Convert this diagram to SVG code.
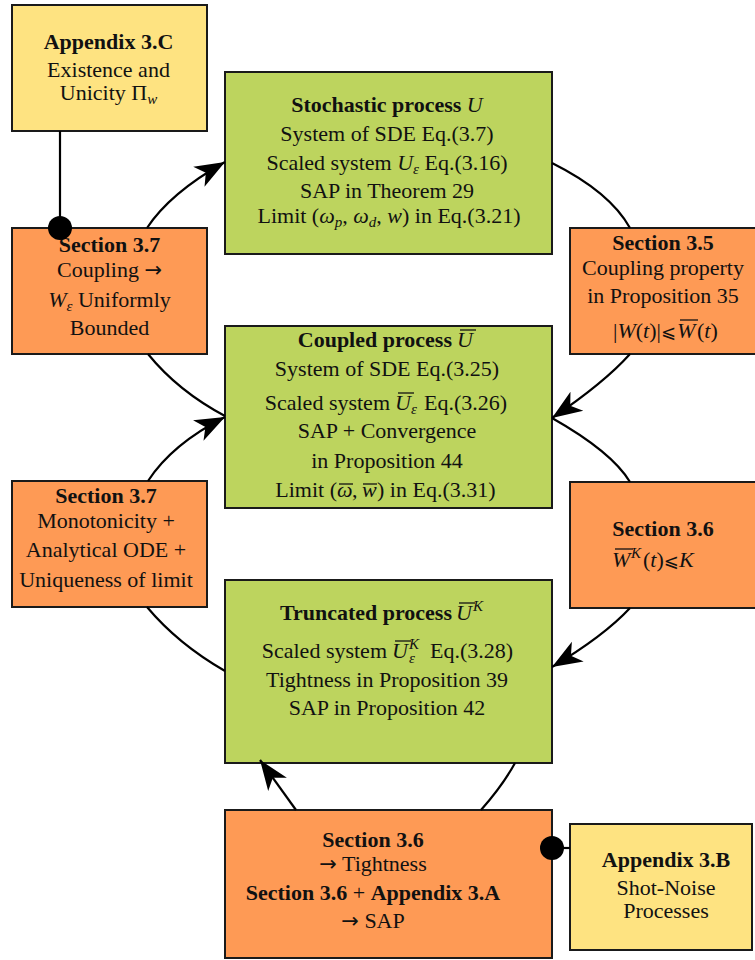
<svg xmlns="http://www.w3.org/2000/svg" width="755" height="960" viewBox="0 0 755 960">
<style>
.box{stroke:#1a1a1a;stroke-width:2}
.y{fill:#FEE381}.o{fill:#FE9A55}.g{fill:#BDD45E}
text{font-family:"Liberation Serif","Times New Roman",serif;font-size:22px;text-anchor:middle;fill:#111}
text.l{text-anchor:start}
text.r{text-anchor:end}
.b{font-weight:bold}
.i{font-style:italic}
.s{font-size:15px}
.le{font-family:"DejaVu Sans",sans-serif;font-size:18px}
.ar{font-family:"DejaVu Sans",sans-serif;font-size:21px}
.ovl{stroke:#111;stroke-width:1.3}
.conn path,.conn line{fill:none;stroke:#000;stroke-width:2.2}
</style>
<defs>
<marker id="ah" viewBox="-31 -12 32 24" refX="0" refY="0" markerWidth="32" markerHeight="24" markerUnits="userSpaceOnUse" orient="auto">
<path d="M0,0 L-30,-11.5 L-22,0 L-30,11.5 Z" fill="#000"/>
</marker>
</defs>

<g id="appendix3C">
<rect class="box y" x="12" y="5" width="195" height="126"/>
<text x="108.5" y="49" class="b">Appendix 3.C</text>
<text x="108.5" y="77">Existence and</text>
<text x="108.5" y="100">Unicity Π<tspan class="i s" dy="4">w</tspan></text>
</g>

<g id="stochastic">
<rect class="box g" x="225" y="72" width="327" height="182"/>
<text x="387" y="112"><tspan class="b">Stochastic process</tspan> <tspan class="i">U</tspan></text>
<text x="387" y="141">System of SDE Eq.(3.7)</text>
<text x="387" y="170">Scaled system <tspan class="i">U</tspan><tspan class="i s" dy="4">ε</tspan><tspan dy="-4"> Eq.(3.16)</tspan></text>
<text x="387" y="198">SAP in Theorem 29</text>
<text x="389" y="223">Limit (<tspan class="i">ω</tspan><tspan class="i s" dy="4">p</tspan><tspan dy="-4">, </tspan><tspan class="i">ω</tspan><tspan class="i s" dy="4">d</tspan><tspan dy="-4">, </tspan><tspan class="i">w</tspan>) in Eq.(3.21)</text>
</g>

<g id="section35">
<rect class="box o" x="570" y="228" width="190" height="126"/>
<text x="663" y="250" class="b">Section 3.5</text>
<text x="663" y="275">Coupling property</text>
<text x="663" y="303">in Proposition 35</text>
<text class="r" x="676" y="338">|<tspan class="i">W</tspan>(<tspan class="i">t</tspan>)|<tspan class="le">⩽</tspan></text>
<text class="l i" x="677" y="338">W</text>
<text class="l" x="697" y="338">(<tspan class="i">t</tspan>)</text>
<line class="ovl" x1="680" y1="320" x2="698" y2="320"/>
</g>

<g id="section37a">
<rect class="box o" x="12" y="228" width="195" height="126"/>
<text x="109.5" y="252" class="b">Section 3.7</text>
<text x="109.5" y="277">Coupling <tspan class="ar">→</tspan></text>
<text x="109.5" y="307"><tspan class="i">W</tspan><tspan class="i s" dy="4">ε</tspan><tspan dy="-4"> Uniformly</tspan></text>
<text x="109.5" y="335">Bounded</text>
</g>

<g id="coupled">
<rect class="box g" x="225" y="326" width="327" height="182"/>
<text class="r b" x="452" y="347">Coupled process</text>
<text class="l i" x="457" y="347">U</text>
<line class="ovl" x1="460" y1="330" x2="476" y2="330"/>
<text x="387" y="376">System of SDE Eq.(3.25)</text>
<text class="r" x="390" y="410">Scaled system</text>
<text class="l i" x="395" y="410">U</text>
<text class="l i s" x="411" y="414">ε</text>
<text class="l" x="424" y="410">Eq.(3.26)</text>
<line class="ovl" x1="398" y1="393" x2="414" y2="393"/>
<text x="387" y="438">SAP + Convergence</text>
<text x="387" y="468">in Proposition 44</text>
<text class="r" x="337" y="497">Limit (</text>
<text class="l i" x="337" y="497">ω</text>
<text class="l" x="352" y="497">,</text>
<text class="l i" x="362" y="497">w</text>
<text class="l" x="377" y="497">) in Eq.(3.31)</text>
<line class="ovl" x1="339" y1="484" x2="353" y2="484"/>
<line class="ovl" x1="363" y1="484" x2="377" y2="484"/>
</g>

<g id="section37b">
<rect class="box o" x="12" y="481" width="195" height="126"/>
<text x="106" y="503" class="b">Section 3.7</text>
<text x="106" y="528">Monotonicity +</text>
<text x="106" y="557">Analytical ODE +</text>
<text x="106" y="587">Uniqueness of limit</text>
</g>

<g id="section36a">
<rect class="box o" x="570" y="482" width="190" height="126"/>
<text x="663" y="536" class="b">Section 3.6</text>
<text class="l i" x="612" y="567">W</text>
<text class="l i s" x="631" y="558">K</text>
<text class="l" x="643" y="567">(<tspan class="i">t</tspan>)<tspan class="le">⩽</tspan><tspan class="i">K</tspan></text>
<line class="ovl" x1="615" y1="549" x2="633" y2="549"/>
</g>

<g id="truncated">
<rect class="box g" x="225" y="580" width="327" height="183"/>
<text class="r b" x="452" y="620">Truncated process</text>
<text class="l i" x="456" y="620">U</text>
<text class="l i s" x="473" y="611">K</text>
<line class="ovl" x1="459" y1="603" x2="475" y2="603"/>
<text class="r" x="387" y="658">Scaled system</text>
<text class="l i" x="392" y="658">U</text>
<text class="l i s" x="409" y="649">K</text>
<text class="l i s" x="409" y="663">ε</text>
<text class="l" x="430" y="658">Eq.(3.28)</text>
<line class="ovl" x1="395" y1="641" x2="411" y2="641"/>
<text x="387" y="687">Tightness in Proposition 39</text>
<text x="387" y="715">SAP in Proposition 42</text>
</g>

<g id="section36b">
<rect class="box o" x="225" y="810" width="327" height="148"/>
<text x="373" y="847" class="b">Section 3.6</text>
<text x="373" y="871"><tspan class="ar">→</tspan> Tightness</text>
<text x="373" y="900"><tspan class="b">Section 3.6</tspan> + <tspan class="b">Appendix 3.A</tspan></text>
<text x="373" y="928"><tspan class="ar">→</tspan> SAP</text>
</g>

<g id="appendix3B">
<rect class="box y" x="570" y="824" width="182" height="126"/>
<text x="666" y="867" class="b">Appendix 3.B</text>
<text x="666" y="895">Shot-Noise</text>
<text x="666" y="918">Processes</text>
</g>

<g class="conn" id="connectors">
<path d="M147,228 Q170,193 225,162" marker-end="url(#ah)"/>
<path d="M552,163 Q610,192 630,228"/>
<path d="M630,354 Q604,383 552,418" marker-end="url(#ah)"/>
<path d="M148,354 Q178,391 225,416"/>
<path d="M148,481 Q172,444 225,417" marker-end="url(#ah)"/>
<path d="M552,418 Q612,452 630,482"/>
<path d="M630,608 Q604,636 552,667" marker-end="url(#ah)"/>
<path d="M147,607 Q178,644 225,671"/>
<path d="M296,810 L260,760" marker-end="url(#ah)"/>
<path d="M515,763 Q503,785 481,810"/>
<line x1="60" y1="131" x2="60" y2="228"/>
<circle cx="60" cy="228" r="12" fill="#000"/>
<line x1="552" y1="848" x2="570" y2="848"/>
<circle cx="552" cy="848" r="12" fill="#000"/>
</g>
</svg>
